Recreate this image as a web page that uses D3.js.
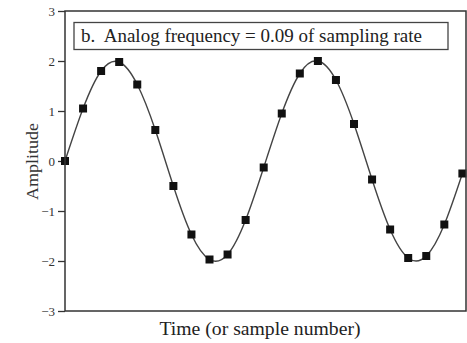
<!DOCTYPE html>
<html>
<head>
<meta charset="UTF-8" />
<style>
  body { margin: 0; background: #fff; }
  svg { display: block; font-family: "Liberation Serif", "DejaVu Serif", serif; }
</style>
</head>
<body>
<svg id="chart" width="467" height="343"></svg>
<script src="https://d3js.org/d3.v7.min.js"></script>
<script>
  // sample values
  const samples = [0, 1.05, 1.8, 1.98, 1.53, 0.62, -0.5, -1.47, -1.97, -1.87, -1.18,
                   -0.13, 0.95, 1.75, 2.0, 1.62, 0.74, -0.37, -1.37, -1.94, -1.9, -1.27, -0.25];
  const yTicks = [-3, -2, -1, 0, 1, 2, 3];
  const title = "b.  Analog frequency = 0.09 of sampling rate";

  const mLeft = 65, mRight = 466, mTop = 11, mBottom = 311;
  const svg = d3.select("#chart");

  const x = d3.scaleLinear().domain([0, 22.2]).range([mLeft, mRight]);
  const y = d3.scaleLinear().domain([-3, 3]).range([mBottom, mTop]);

  const pts = samples.map((v, i) => ({ n: i, v: v }));

  // axis
  const yAxis = svg.append("g")
    .attr("transform", `translate(${mLeft},0)`)
    .call(d3.axisLeft(y).tickValues(yTicks).tickSize(7).tickPadding(3).tickFormat(d3.format("d")));
  yAxis.select(".domain").remove();
  yAxis.selectAll("line").attr("stroke", "#333").attr("stroke-width", 1.3);
  yAxis.selectAll("text").attr("font-family", "Liberation Serif").attr("font-size", 13).attr("fill", "#333");

  // curve
  svg.append("path")
    .datum(pts)
    .attr("fill", "none")
    .attr("stroke", "#444")
    .attr("stroke-width", 1.4)
    .attr("d", d3.line().x(d => x(d.n)).y(d => y(d.v)).curve(d3.curveNatural));

  // markers
  svg.selectAll(".pt")
    .data(pts)
    .enter().append("rect")
    .attr("class", "pt")
    .attr("x", d => x(d.n) - 4)
    .attr("y", d => y(d.v) - 4)
    .attr("width", 8)
    .attr("height", 8)
    .attr("fill", "#111");

  // frame
  svg.append("rect")
    .attr("x", mLeft).attr("y", mTop)
    .attr("width", mRight - mLeft).attr("height", mBottom - mTop)
    .attr("fill", "none").attr("stroke", "#333").attr("stroke-width", 1.5);

  // title box
  svg.append("rect")
    .attr("x", 74).attr("y", 22.5).attr("width", 374).attr("height", 27)
    .attr("fill", "#fff").attr("stroke", "#444").attr("stroke-width", 1.3);
  svg.append("text")
    .attr("x", 81).attr("y", 42)
    .attr("font-size", 18).attr("fill", "#222")
    .attr("textLength", 341).attr("lengthAdjust", "spacingAndGlyphs")
    .style("white-space", "pre")
    .text(title);

  svg.append("text")
    .attr("transform", `translate(38,161.5) rotate(-90)`)
    .attr("text-anchor", "middle")
    .attr("font-size", 16.5).attr("fill", "#333")
    .attr("textLength", 77).attr("lengthAdjust", "spacingAndGlyphs")
    .text("Amplitude");

  svg.append("text")
    .attr("x", 260).attr("y", 335)
    .attr("text-anchor", "middle")
    .attr("font-size", 18).attr("fill", "#222")
    .attr("textLength", 201).attr("lengthAdjust", "spacingAndGlyphs")
    .text("Time (or sample number)");
</script>
</body>
</html>
